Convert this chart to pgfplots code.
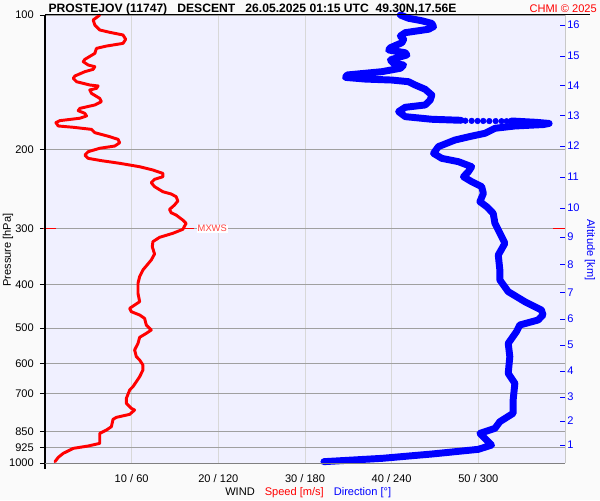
\documentclass[border=0pt]{standalone}
\usepackage{pgfplots}
\usepackage{pgfplotstable}
\pgfplotsset{compat=1.18}
\usepackage{fontspec}
\setmainfont{Liberation Sans}
\definecolor{plotbg}{HTML}{F0F0FF}
\definecolor{outbg}{HTML}{FAFAFA}
\definecolor{hgrid}{HTML}{A0A0A0}
\definecolor{vgrid}{HTML}{D8D8D8}
\definecolor{rline}{HTML}{C8C8C8}
\definecolor{mxred}{HTML}{FF4040}

\pgfplotstableread{
p s
100.0 6.32
102.6 5.56
105.3 5.75
108.0 6.32
109.3 7.47
110.8 9.00
113.3 9.31
115.7 9.00
117.3 7.09
118.7 5.94
121.8 5.75
125.6 4.60
127.1 4.41
129.3 4.98
130.4 5.75
132.2 5.56
133.8 4.60
136.8 3.45
138.5 3.26
140.9 3.64
143.3 5.17
144.0 6.13
145.8 5.94
147.0 5.17
149.6 5.36
153.5 6.32
156.1 6.51
158.8 5.75
161.6 4.02
163.5 3.83
165.8 4.60
168.0 4.79
170.0 4.02
172.1 1.72
173.9 1.26
176.9 1.53
178.1 3.26
180.0 5.36
183.1 5.75
186.9 7.47
189.5 8.43
192.8 8.62
196.1 8.05
198.4 6.32
201.9 4.98
205.4 4.60
208.9 4.98
211.4 6.51
214.3 8.62
218.1 10.92
221.8 12.45
225.7 13.60
229.6 13.60
232.7 12.64
236.7 12.26
241.6 12.64
248.0 13.60
250.9 14.56
254.4 15.13
260.1 15.33
265.6 14.94
271.6 14.37
276.3 14.56
279.6 15.13
286.9 15.90
291.8 16.28
300.9 15.90
307.1 14.75
313.5 13.22
320.6 12.45
329.0 12.38
341.6 12.64
352.3 12.26
370.8 11.30
383.7 10.92
397.2 10.73
418.0 10.73
436.4 10.92
444.0 10.34
451.6 9.77
459.4 9.96
467.3 10.92
475.4 11.49
492.0 11.69
504.8 12.26
513.5 11.69
524.2 10.92
540.7 10.73
559.4 10.34
578.9 10.54
588.9 10.92
604.3 11.30
620.2 11.30
641.8 10.92
675.5 10.15
687.2 9.77
717.3 9.39
736.0 9.39
755.2 9.96
761.7 10.34
778.8 9.77
790.9 8.24
799.1 7.85
829.8 7.66
844.1 7.09
858.7 6.32
903.9 6.32
916.3 4.98
927.5 3.26
951.5 2.11
971.3 1.53
993.1 1.15
}\speed

\pgfplotstableread{
p dir
100.0 246.0
101.7 251.7
103.0 260.9
104.4 267.8
106.2 269.0
107.6 265.5
109.5 249.4
111.4 246.0
113.3 248.3
115.3 247.1
118.3 239.1
119.7 237.9
121.4 249.4
122.8 250.6
124.3 244.8
126.0 239.1
128.2 241.4
129.3 248.3
131.5 246.0
133.8 233.3
136.1 209.2
137.8 208.0
139.0 221.8
139.7 240.2
140.9 251.7
143.3 256.3
146.5 263.2
150.9 267.8
154.8 266.7
158.8 263.2
160.7 249.4
164.3 244.8
168.6 249.4
170.9 267.8
171.8 288.0
}\dirA

\pgfplotstableread{
p dir
172.2 291.0
172.3 295.4
172.4 299.5
172.4 303.4
172.5 307.6
172.5 312.0
172.6 316.1
172.6 319.6
}\dirDots

\pgfplotstableread{
p dir
172.4 323.0
173.6 340.0
174.6 349.0
175.6 345.0
176.9 325.3
179.0 311.5
183.7 304.6
186.5 295.0
190.1 283.9
196.7 272.4
203.6 269.0
208.9 274.7
212.5 286.2
218.1 295.4
223.8 293.1
229.6 289.7
235.5 295.4
241.6 302.3
250.1 303.5
261.0 301.1
267.9 305.8
277.2 310.3
291.8 311.5
307.1 315.0
323.3 318.4
343.4 313.8
370.8 314.9
390.4 314.9
414.5 320.7
436.4 332.2
455.5 343.7
467.3 344.8
479.5 341.4
492.0 328.7
509.1 326.4
540.7 320.7
578.9 321.8
630.8 320.7
664.0 325.3
723.6 324.1
774.7 324.1
808.7 314.9
836.8 311.5
858.7 301.1
911.8 309.2
932.2 300.0
954.8 267.8
976.3 233.3
993.1 193.1
}\dirB

\begin{document}
\begin{tikzpicture}
\fill[outbg] (-33.75pt,-27.75pt) rectangle (416.25pt,347.25pt);
\begin{axis}[
  at={(0pt,0pt)}, anchor=south west,
  scale only axis, width=390pt, height=336pt,
  xmin=0, xmax=60, ymin=100, ymax=1000,
  ymode=log, y dir=reverse,
  axis background/.style={fill=plotbg},
  axis line style={draw=none},
  xtick={10,20,30,40,50},
  xticklabels={10 / 60, 20 / 120, 30 / 180, 40 / 240, 50 / 300},
  ytick={100,200,300,400,500,600,700,850,925,1000},
  yticklabels={100,200,300,400,500,600,700,850,925,1000},
  xmajorgrids, ymajorgrids,
  major x grid style={vgrid, line width=0.75pt},
  major y grid style={hgrid, line width=0.75pt},
  xtick style={draw=none},
  ytick style={black, line width=0.75pt},
  tick align=outside, major tick length=3.75pt,
  ytick pos=left, xtick pos=bottom,
  tick label style={font=\fontsize{8.3}{10}\selectfont},
  yticklabel style={anchor=east, inner sep=0pt, xshift=-4.5pt},
  xticklabel style={anchor=north, inner sep=0pt, yshift=-5pt},
  clip=false,
]
\addplot[red, line width=2.2pt, line join=round, line cap=round] table[x=s, y=p]{\speed};
\addplot[blue, line width=5.2pt, line join=round, line cap=round] table[x expr=\thisrow{dir}/6, y=p]{\dirA};
\addplot[blue, only marks, mark=*, mark size=2.1pt] table[x expr=\thisrow{dir}/6, y=p]{\dirDots};
\addplot[blue, line width=5.2pt, line join=round, line cap=round] table[x expr=\thisrow{dir}/6, y=p]{\dirB};
\addplot[red, line width=0.75pt] coordinates {(-0.25,300) (1.25,300)};
\addplot[red, line width=0.75pt] coordinates {(15.8,300) (17.2,300)};
\addplot[red, line width=0.75pt] coordinates {(58.6,300) (60.1,300)};
\node[anchor=west, fill=white, inner sep=0.6pt, text=mxred, font=\fontsize{7}{8}\selectfont] at (axis cs:17.5,300) {MXWS};
\end{axis}
\begin{axis}[
  at={(0pt,0pt)}, anchor=south west,
  scale only axis, width=390pt, height=336pt,
  xmin=0, xmax=60, ymin=100, ymax=1000,
  ymode=log, y dir=reverse,
  hide x axis, axis y line*=right,
  axis line style={draw=none},
  ytick={105.3,123.5,144.0,168.0,196.1,230.0,269.7,313.0,361.4,417.3,477.1,545.3,623.3,712.5,805.9,911.8},
  yticklabels={16,15,14,13,12,11,10,9,8,7,6,5,4,3,2,1},
  ytick style={blue, line width=0.75pt},
  tick align=inside, major tick length=3.75pt,
  yticklabel style={text=blue, anchor=west, inner sep=0pt, xshift=1.5pt, font=\fontsize{8.3}{10}\selectfont},
]
\addplot[draw=none] coordinates {(1,500)};
\end{axis}
\draw[black, line width=0.75pt] (0pt,-4.5pt) -- (0pt,336pt);
\draw[black, line width=0.75pt] (0pt,336pt) -- (408.75pt,336pt);
\draw[gray, line width=0.75pt] (0pt,0pt) -- (390pt,0pt);
\draw[rline, line width=0.75pt] (390pt,0pt) -- (390pt,336pt);
\node[anchor=base west, inner sep=0pt, font=\bfseries\fontsize{9.1}{11}\selectfont] at (2.5pt,337.9pt) {PROSTEJOV (11747)\ \ \ DESCENT\ \ \ 26.05.2025 01:15 UTC\ \ 49.30N,17.56E};
\node[anchor=base east, inner sep=0pt, text=red, font=\fontsize{8.3}{10}\selectfont] at (414pt,337.9pt) {CHMI © 2025};
\node[rotate=90, inner sep=0pt, font=\fontsize{8.3}{10}\selectfont] at (-27.75pt,159.75pt) {Pressure [hPa]};
\node[rotate=-90, inner sep=0pt, text=blue, font=\fontsize{8.3}{10}\selectfont] at (408.75pt,159.75pt) {Altitude [km]};
\node[anchor=base west, inner sep=0pt, font=\fontsize{8.3}{10}\selectfont] at (135pt,-24pt) {WIND\hspace{7.5pt}\textcolor{red}{Speed [m/s]}\hspace{7.5pt}\textcolor{blue}{Direction [°]}};
\pgfresetboundingbox
\useasboundingbox (-33.75pt,-27.75pt) rectangle (416.25pt,347.25pt);
\end{tikzpicture}
\end{document}
